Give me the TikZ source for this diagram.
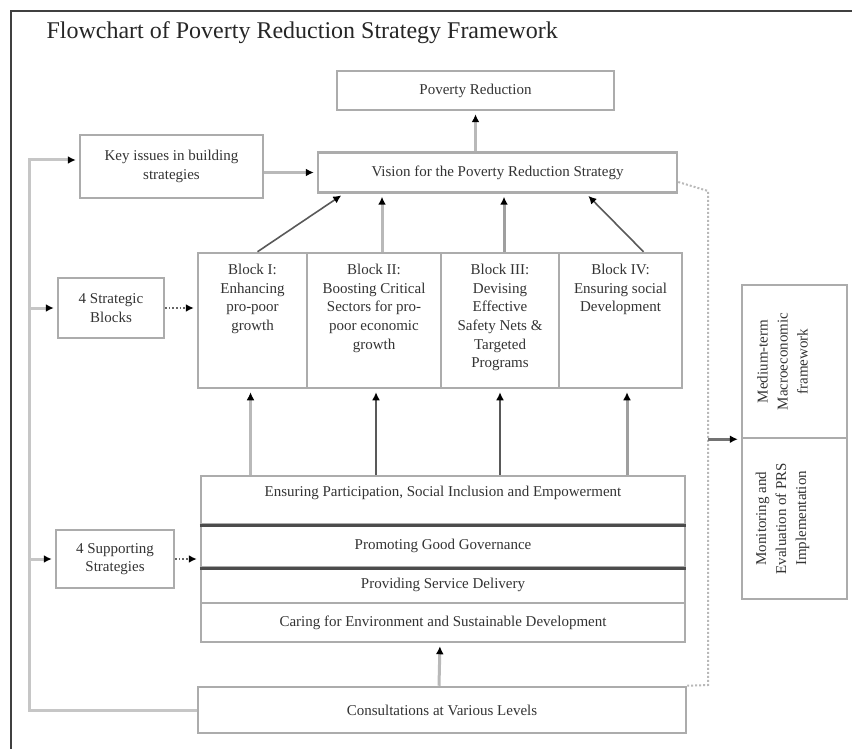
\documentclass[tikz,border=0pt]{standalone}
\usepackage{fontspec}
\setmainfont{Liberation Serif}
\usetikzlibrary{positioning,arrows.meta}
\begin{document}
\begin{tikzpicture}[x=1pt,y=-1pt,
  font=\fontsize{15}{18.7}\selectfont,
  box/.style={draw=gray!65, line width=2.5pt, inner sep=0pt, align=center, text=black!80},
  txt/.style={inner sep=0pt, align=center, text=black!80},
  link/.style={draw=gray!55, line width=3pt, shorten >=3pt, -{Latex[black,length=8pt,width=8pt]}},
  thin link/.style={draw=black!65, line width=1.6pt, shorten >=3pt, -{Latex[black,length=8pt,width=8pt]}},
  dot link/.style={draw=black!60, line width=1.6pt, dotted, shorten >=3pt, -{Latex[black,length=8pt,width=8pt]}}]
\useasboundingbox (0,0) rectangle (852,749);
% Frame and title
\draw[black!75, line width=1.5pt] (11,749) -- (11,11) -- (852,11);
\node[anchor=west, font=\fontsize{24}{28}\selectfont, text=black!85] (title) at (43,33) {Flowchart of Poverty Reduction Strategy Framework};
% Top boxes
\node[box, minimum width=277, minimum height=39] (pov) at (475.5,90.5) {Poverty Reduction};
\node[box, minimum width=359, minimum height=40] (vis) at (497.5,172.5) {Vision for the Poverty Reduction Strategy};
\node[box, minimum width=183, minimum height=63] (key) at (171.5,166.5) {Key issues in building\\strategies};
% Four strategic blocks
\node[box, minimum width=109, minimum height=135] (blk1) at (252.5,320.5) {};
\node[box, minimum width=134, minimum height=135] (blk2) at (374,320.5) {};
\node[box, minimum width=118, minimum height=135] (blk3) at (500,320.5) {};
\node[box, minimum width=123, minimum height=135] (blk4) at (620.5,320.5) {};
\node[txt, below=12pt of blk1.north] (blk1t) {Block I:\\Enhancing\\pro-poor\\growth};
\node[txt, below=12pt of blk2.north] (blk2t) {Block II:\\Boosting Critical\\Sectors for pro-\\poor economic\\growth};
\node[txt, below=12pt of blk3.north] (blk3t) {Block III:\\Devising\\Effective\\Safety Nets \&\\Targeted\\Programs};
\node[txt, below=12pt of blk4.north] (blk4t) {Block IV:\\Ensuring social\\Development};
\node[box, minimum width=106, minimum height=60] (sblk) at (111,308) {4 Strategic\\Blocks};
% Supporting strategies
\node[box, minimum width=484, minimum height=48] (ens) at (443,500) {};
\node[txt, below=11pt of ens.north] (enst) {Ensuring Participation, Social Inclusion and Empowerment};
\node[box, minimum width=484, minimum height=43] (prom) at (443,545.5) {Promoting Good Governance};
\node[box, minimum width=484, minimum height=36] (prov) at (443,585) {Providing Service Delivery};
\node[box, minimum width=484, minimum height=39] (car) at (443,622.5) {Caring for Environment and Sustainable Development};
\draw[black!70, line width=3pt] (ens.south west) -- (ens.south east);
\draw[black!70, line width=3pt] (prom.south west) -- (prom.south east);
\node[box, minimum width=118, minimum height=58] (ssup) at (115,559) {4 Supporting\\Strategies};
\node[box, minimum width=488, minimum height=46] (cons) at (442,710) {Consultations at Various Levels};
% Right side boxes
\node[box, minimum width=105, minimum height=153] (mac) at (794.5,361.5) {};
\node[box, minimum width=105, minimum height=161] (mon) at (794.5,518.5) {};
\node[txt, rotate=90, font=\fontsize{15}{20}\selectfont] (mact) at ([xshift=-12pt]mac.center) {Medium-term\\Macroeconomic\\framework};
\node[txt, rotate=90, font=\fontsize{15}{20}\selectfont] (mont) at ([xshift=-12pt]mon.center) {Monitoring and\\Evaluation of PRS\\Implementation};
% Arrows to the vision
\draw[link] (pov.south |- vis.north) -- (pov.south);
\draw[link] (key.east |- vis.west) -- (vis.west);
\draw[thin link] ([xshift=5pt]blk1.north) -- ([xshift=27pt]vis.south west);
\draw[link] ([xshift=8pt]blk2.north) -- ([xshift=8pt]blk2.north |- vis.south);
\draw[link, draw=gray!75] ([xshift=4pt]blk3.north) -- ([xshift=4pt]blk3.north |- vis.south);
\draw[thin link] ([xshift=23pt]blk4.north) -- ([xshift=-92pt]vis.south east);
% Arrows up to the blocks
\draw[link] ([xshift=-2pt]blk1.south |- ens.north) -- ([xshift=-2pt]blk1.south);
\draw[thin link, line width=2pt] ([xshift=2pt]blk2.south |- ens.north) -- ([xshift=2pt]blk2.south);
\draw[thin link, line width=2pt] (blk3.south |- ens.north) -- (blk3.south);
\draw[link, draw=gray!75] ([xshift=6.5pt]blk4.south |- ens.north) -- ([xshift=6.5pt]blk4.south);
\draw[link] ([xshift=-3pt]cons.north) -- ([xshift=-3pt]car.south);
% Feedback on the left
\coordinate (ftop) at (29,160);
\draw[link, draw=gray!45] (cons.west) -| (ftop) -- (ftop -| key.west);
\draw[link, draw=gray!45] (ftop |- sblk.west) -- (sblk.west);
\draw[link, draw=gray!45] (ftop |- ssup.west) -- (ssup.west);
\draw[dot link] (sblk.east) -- (sblk.east -| blk1.west);
\draw[dot link] (ssup.east) -- (ssup.east -| ens.west);
% Dotted line on the right
\coordinate (dtop) at (708,191);
\coordinate (dbot) at (708,685);
\draw[gray!55, line width=2pt, dash pattern=on 2pt off 2pt] ([yshift=-9.5pt]vis.east) -- (dtop) -- (dbot) -- (cons.north east);
\draw[thin link, draw=black!55, line width=2.5pt] (dtop |- mac.south) -- (mac.south west);
\end{tikzpicture}
\end{document}
